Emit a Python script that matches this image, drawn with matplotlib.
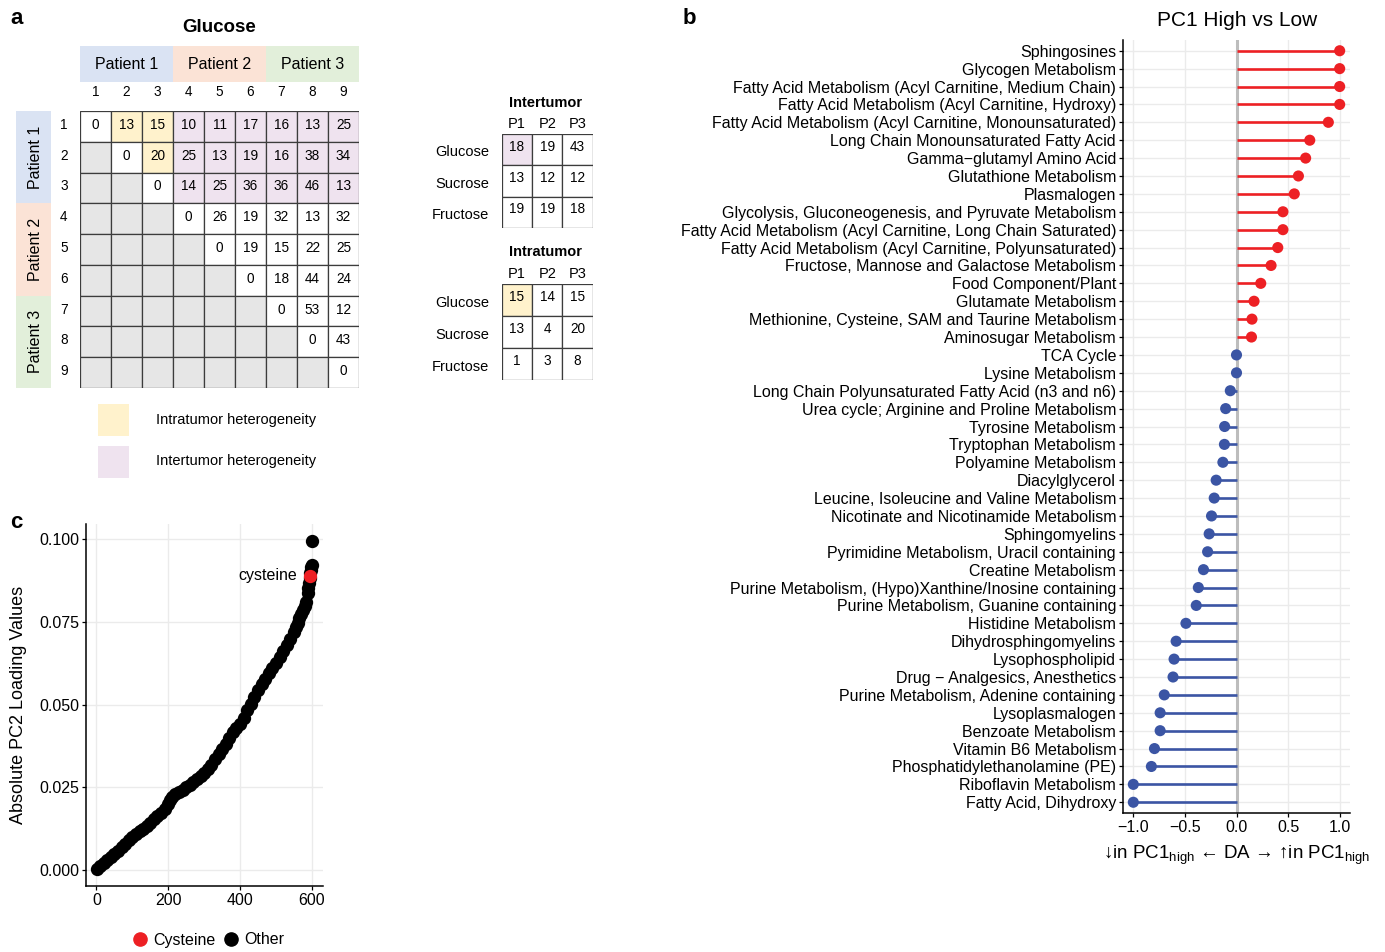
import matplotlib
matplotlib.use('Agg')
import matplotlib.pyplot as plt
from matplotlib.patches import Rectangle
from matplotlib.lines import Line2D

plt.rcParams['font.family'] = ['Liberation Sans', 'DejaVu Sans']
plt.rcParams['mathtext.fontset'] = 'custom'
plt.rcParams['mathtext.rm'] = 'Liberation Sans'
plt.rcParams['mathtext.it'] = 'Liberation Sans:italic'
plt.rcParams['mathtext.bf'] = 'Liberation Sans:bold'

# ---------------- panel a data
patients = ['Patient 1', 'Patient 2', 'Patient 3']
patient_colors = ['#DAE3F3', '#FBE3D6', '#E2EFDA']
samples = ['1', '2', '3', '4', '5', '6', '7', '8', '9']
sample_patient = [0, 0, 0, 1, 1, 1, 2, 2, 2]
glucose = [
    [0, 13, 15, 10, 11, 17, 16, 13, 25],
    [None, 0, 20, 25, 13, 19, 16, 38, 34],
    [None, None, 0, 14, 25, 36, 36, 46, 13],
    [None, None, None, 0, 26, 19, 32, 13, 32],
    [None, None, None, None, 0, 19, 15, 22, 25],
    [None, None, None, None, None, 0, 18, 44, 24],
    [None, None, None, None, None, None, 0, 53, 12],
    [None, None, None, None, None, None, None, 0, 43],
    [None, None, None, None, None, None, None, None, 0],
]
sugars = ['Glucose', 'Sucrose', 'Fructose']
short_patients = ['P1', 'P2', 'P3']
intertumor = [[18, 19, 43], [13, 12, 12], [19, 19, 18]]
intratumor = [[15, 14, 15], [13, 4, 20], [1, 3, 8]]

# ---------------- panel b data
pathways = [
    'Sphingosines',
    'Glycogen Metabolism',
    'Fatty Acid Metabolism (Acyl Carnitine, Medium Chain)',
    'Fatty Acid Metabolism (Acyl Carnitine, Hydroxy)',
    'Fatty Acid Metabolism (Acyl Carnitine, Monounsaturated)',
    'Long Chain Monounsaturated Fatty Acid',
    'Gamma\u2212glutamyl Amino Acid',
    'Glutathione Metabolism',
    'Plasmalogen',
    'Glycolysis, Gluconeogenesis, and Pyruvate Metabolism',
    'Fatty Acid Metabolism (Acyl Carnitine, Long Chain Saturated)',
    'Fatty Acid Metabolism (Acyl Carnitine, Polyunsaturated)',
    'Fructose, Mannose and Galactose Metabolism',
    'Food Component/Plant',
    'Glutamate Metabolism',
    'Methionine, Cysteine, SAM and Taurine Metabolism',
    'Aminosugar Metabolism',
    'TCA Cycle',
    'Lysine Metabolism',
    'Long Chain Polyunsaturated Fatty Acid (n3 and n6)',
    'Urea cycle; Arginine and Proline Metabolism',
    'Tyrosine Metabolism',
    'Tryptophan Metabolism',
    'Polyamine Metabolism',
    'Diacylglycerol',
    'Leucine, Isoleucine and Valine Metabolism',
    'Nicotinate and Nicotinamide Metabolism',
    'Sphingomyelins',
    'Pyrimidine Metabolism, Uracil containing',
    'Creatine Metabolism',
    'Purine Metabolism, (Hypo)Xanthine/Inosine containing',
    'Purine Metabolism, Guanine containing',
    'Histidine Metabolism',
    'Dihydrosphingomyelins',
    'Lysophospholipid',
    'Drug \u2212 Analgesics, Anesthetics',
    'Purine Metabolism, Adenine containing',
    'Lysoplasmalogen',
    'Benzoate Metabolism',
    'Vitamin B6 Metabolism',
    'Phosphatidylethanolamine (PE)',
    'Riboflavin Metabolism',
    'Fatty Acid, Dihydroxy',
]
da_score = [1.0, 1.0, 1.0, 1.0, 0.89, 0.71, 0.67, 0.60, 0.56, 0.45, 0.45, 0.40,
            0.335, 0.235, 0.17, 0.15, 0.145, 0.0, 0.0, -0.06, -0.105, -0.115,
            -0.117, -0.132, -0.197, -0.216, -0.242, -0.265, -0.28, -0.32, -0.37,
            -0.39, -0.49, -0.585, -0.605, -0.615, -0.70, -0.74, -0.74, -0.795,
            -0.825, -1.0, -1.0]

rank = [1, 10, 20, 30, 40, 50, 60, 70, 80, 90, 100, 110, 120, 130, 140, 150,
        160, 170, 180, 190, 200, 205, 210, 220, 230, 240, 250, 260, 270, 280,
        290, 300, 310, 320, 330, 340, 350, 360, 370, 380, 390, 400, 410, 420,
        430, 440, 450, 460, 470, 480, 490, 500, 510, 520, 530, 540, 550, 555,
        560, 565, 570, 575, 580, 584, 588, 590, 592, 594, 596, 597, 598, 599, 600]
loading = [0.0003, 0.0012, 0.0022, 0.0031, 0.0039, 0.0048, 0.0058, 0.0069,
           0.0080, 0.0092, 0.0101, 0.0109, 0.0117, 0.0125, 0.0133, 0.0143,
           0.0153, 0.0163, 0.0173, 0.0185, 0.0200, 0.0212, 0.0220, 0.0229,
           0.0236, 0.0242, 0.0250, 0.0258, 0.0266, 0.0275, 0.0284, 0.0293,
           0.0305, 0.0318, 0.0334, 0.0350, 0.0365, 0.0380, 0.0398, 0.0416,
           0.0430, 0.0442, 0.0460, 0.0482, 0.0503, 0.0523, 0.0545, 0.0562,
           0.0578, 0.0594, 0.0610, 0.0625, 0.0643, 0.0662, 0.0680, 0.0698,
           0.0720, 0.0733, 0.0747, 0.0760, 0.0772, 0.0784, 0.0797, 0.0810,
           0.0838, 0.0852, 0.0868, 0.0882, 0.0896, 0.0906, 0.0914, 0.0922, 0.0995]
cys_rank = 594
cys_loading = 0.0889

RED = '#ED2024'
BLUE = '#3B55A4'
YELLOW = '#FFF2CC'
PINK = '#EFE3EF'
GREY = '#E6E6E6'
EDGE = '#3C3C3C'
GRID = '#EBEBEB'

W, H = 1385, 952
fig = plt.figure(figsize=(W / 100, H / 100), dpi=100)


def px_axes(x0, y0, x1, y1):
    # axes placed by pixel box (top-left origin)
    return fig.add_axes([x0 / W, 1 - y1 / H, (x1 - x0) / W, (y1 - y0) / H])


# ================= panel a: glucose matrix
ax = px_axes(80, 111, 359, 388)
ax.set_xlim(0, 9)
ax.set_ylim(9, 0)
ax.axis('off')
for i, row in enumerate(glucose):
    for j, v in enumerate(row):
        if v is None:
            fc = GREY
        elif i == j:
            fc = 'white'
        elif sample_patient[i] == 0 and sample_patient[j] == 0:
            fc = YELLOW
        elif sample_patient[i] == 0:
            fc = PINK
        else:
            fc = 'white'
        ax.add_patch(Rectangle((j, i), 1, 1, facecolor=fc, edgecolor=EDGE, lw=0.9))
        if v is not None:
            ax.text(j + 0.5, i + 0.45, str(v), ha='center', va='center', fontsize=9.8)

for k, name in enumerate(patients):
    ax.add_patch(Rectangle((3 * k, -2.11), 3, 1.17, facecolor=patient_colors[k],
                           edgecolor='none', clip_on=False))
    ax.text(3 * k + 1.5, -1.5, name, ha='center', va='center', fontsize=11.5)
    ax.add_patch(Rectangle((-2.06, 3 * k), 1.13, 3, facecolor=patient_colors[k],
                           edgecolor='none', clip_on=False))
    ax.text(-1.43, 3 * k + 1.5, name, ha='center', va='center', rotation=90, fontsize=11.5)

for j, s in enumerate(samples):
    ax.text(j + 0.5, -0.62, s, ha='center', va='center', fontsize=9.8)
    ax.text(-0.52, j + 0.45, s, ha='center', va='center', fontsize=9.8)

ax.text(4.5, -2.7, 'Glucose', ha='center', va='center', fontsize=13.5, fontweight='bold')

ax.add_patch(Rectangle((0.58, 9.51), 1.0, 1.04, facecolor=YELLOW, edgecolor='none', clip_on=False))
ax.text(2.45, 10.03, 'Intratumor heterogeneity', ha='left', va='center', fontsize=10.5)
ax.add_patch(Rectangle((0.58, 10.88), 1.0, 1.04, facecolor=PINK, edgecolor='none', clip_on=False))
ax.text(2.45, 11.36, 'Intertumor heterogeneity', ha='left', va='center', fontsize=10.5)


def small_table(y0, y1, title, values, hl_color):
    t = px_axes(501.7, y0, 592.7, y1)
    t.set_xlim(0, 3)
    t.set_ylim(3, 0)
    t.axis('off')
    for i, row in enumerate(values):
        for j, v in enumerate(row):
            fc = hl_color if (i == 0 and j == 0) else 'white'
            t.add_patch(Rectangle((j, i), 1, 1, facecolor=fc, edgecolor=EDGE, lw=0.9))
            t.text(j + 0.5, i + 0.4, str(v), ha='center', va='center', fontsize=9.8)
        t.text(-0.42, i + 0.58, sugars[i], ha='right', va='center', fontsize=10.5)
    for j, p in enumerate(short_patients):
        t.text(j + 0.5, -0.32, p, ha='center', va='center', fontsize=10.5)
    t.text(1.46, -1.0, title, ha='center', va='center', fontsize=10.5, fontweight='bold')


small_table(134, 228, 'Intertumor', intertumor, PINK)
small_table(284, 380, 'Intratumor', intratumor, YELLOW)

# ================= panel b: lollipop
axb = px_axes(1123, 40, 1350, 813)
ypos = list(range(len(pathways)))
colors = [RED if v > 0 else BLUE for v in da_score]
axb.axvline(0, color='#BDBDBD', lw=2.2, zorder=1)
axb.hlines(ypos, 0, da_score, colors=colors, lw=1.9, zorder=2)
axb.scatter(da_score, ypos, s=64, c=colors, zorder=3, linewidths=0)
axb.set_xlim(-1.1, 1.1)
axb.set_ylim(len(pathways) - 0.4, -0.6)
axb.set_yticks(ypos)
axb.set_yticklabels(pathways, fontsize=11.5)
axb.set_xticks([-1.0, -0.5, 0.0, 0.5, 1.0])
axb.set_xticklabels(['\u22121.0', '\u22120.5', '0.0', '0.5', '1.0'], fontsize=11.5)
axb.grid(True, color=GRID, lw=1)
axb.set_axisbelow(True)
for sp in ['top', 'right']:
    axb.spines[sp].set_visible(False)
for sp in ['left', 'bottom']:
    axb.spines[sp].set_linewidth(1.1)
axb.tick_params(length=3, width=0.9, pad=2)

fig.text(1237 / W, 1 - 20 / H, 'PC1 High vs Low', ha='center', va='center', fontsize=15)
fig.text(1237 / W, 1 - 855 / H,
         '\u2193in PC1$_{\\mathrm{high}}$ \u2190 DA \u2192 \u2191in PC1$_{\\mathrm{high}}$',
         ha='center', va='center', fontsize=13.5)

# ================= panel c: sorted loadings
axc = px_axes(86, 524, 323, 886)
axc.scatter(rank, loading, s=92, color='black', linewidths=0, zorder=3)
axc.scatter([cys_rank], [cys_loading], s=92, color=RED, linewidths=0, zorder=4)
axc.annotate('cysteine', (cys_rank, cys_loading), xytext=(-9, 0), textcoords='offset points',
             ha='right', va='center', fontsize=11.5)
axc.set_xlim(-29, 631)
axc.set_ylim(-0.0048, 0.1045)
axc.set_xticks([0, 200, 400, 600])
axc.set_yticks([0, 0.025, 0.05, 0.075, 0.1])
axc.set_yticklabels(['0.000', '0.025', '0.050', '0.075', '0.100'])
axc.tick_params(labelsize=11.5, length=3, width=0.9, pad=2)
axc.grid(True, color=GRID, lw=1)
axc.set_axisbelow(True)
for sp in ['top', 'right']:
    axc.spines[sp].set_visible(False)
for sp in ['left', 'bottom']:
    axc.spines[sp].set_linewidth(1.1)
axc.set_ylabel('Absolute PC2 Loading Values', fontsize=13)
axc.yaxis.set_label_coords(-0.25, 0.5)

handles = [Line2D([], [], marker='o', ls='', color=RED, markersize=9.5),
           Line2D([], [], marker='o', ls='', color='black', markersize=9.5)]
fig.legend(handles, ['Cysteine', 'Other'], loc='center', bbox_to_anchor=(208 / W, 1 - 940 / H),
           ncol=2, frameon=False, handletextpad=0.3, columnspacing=0.5, handlelength=1,
           fontsize=11.5)

# panel letters
fig.text(17 / W, 1 - 18 / H, 'a', ha='center', va='center', fontsize=16, fontweight='bold')
fig.text(689 / W, 1 - 18 / H, 'b', ha='center', va='center', fontsize=16, fontweight='bold')
fig.text(16 / W, 1 - 522 / H, 'c', ha='center', va='center', fontsize=16, fontweight='bold')

fig.savefig('out.png', dpi=100)
